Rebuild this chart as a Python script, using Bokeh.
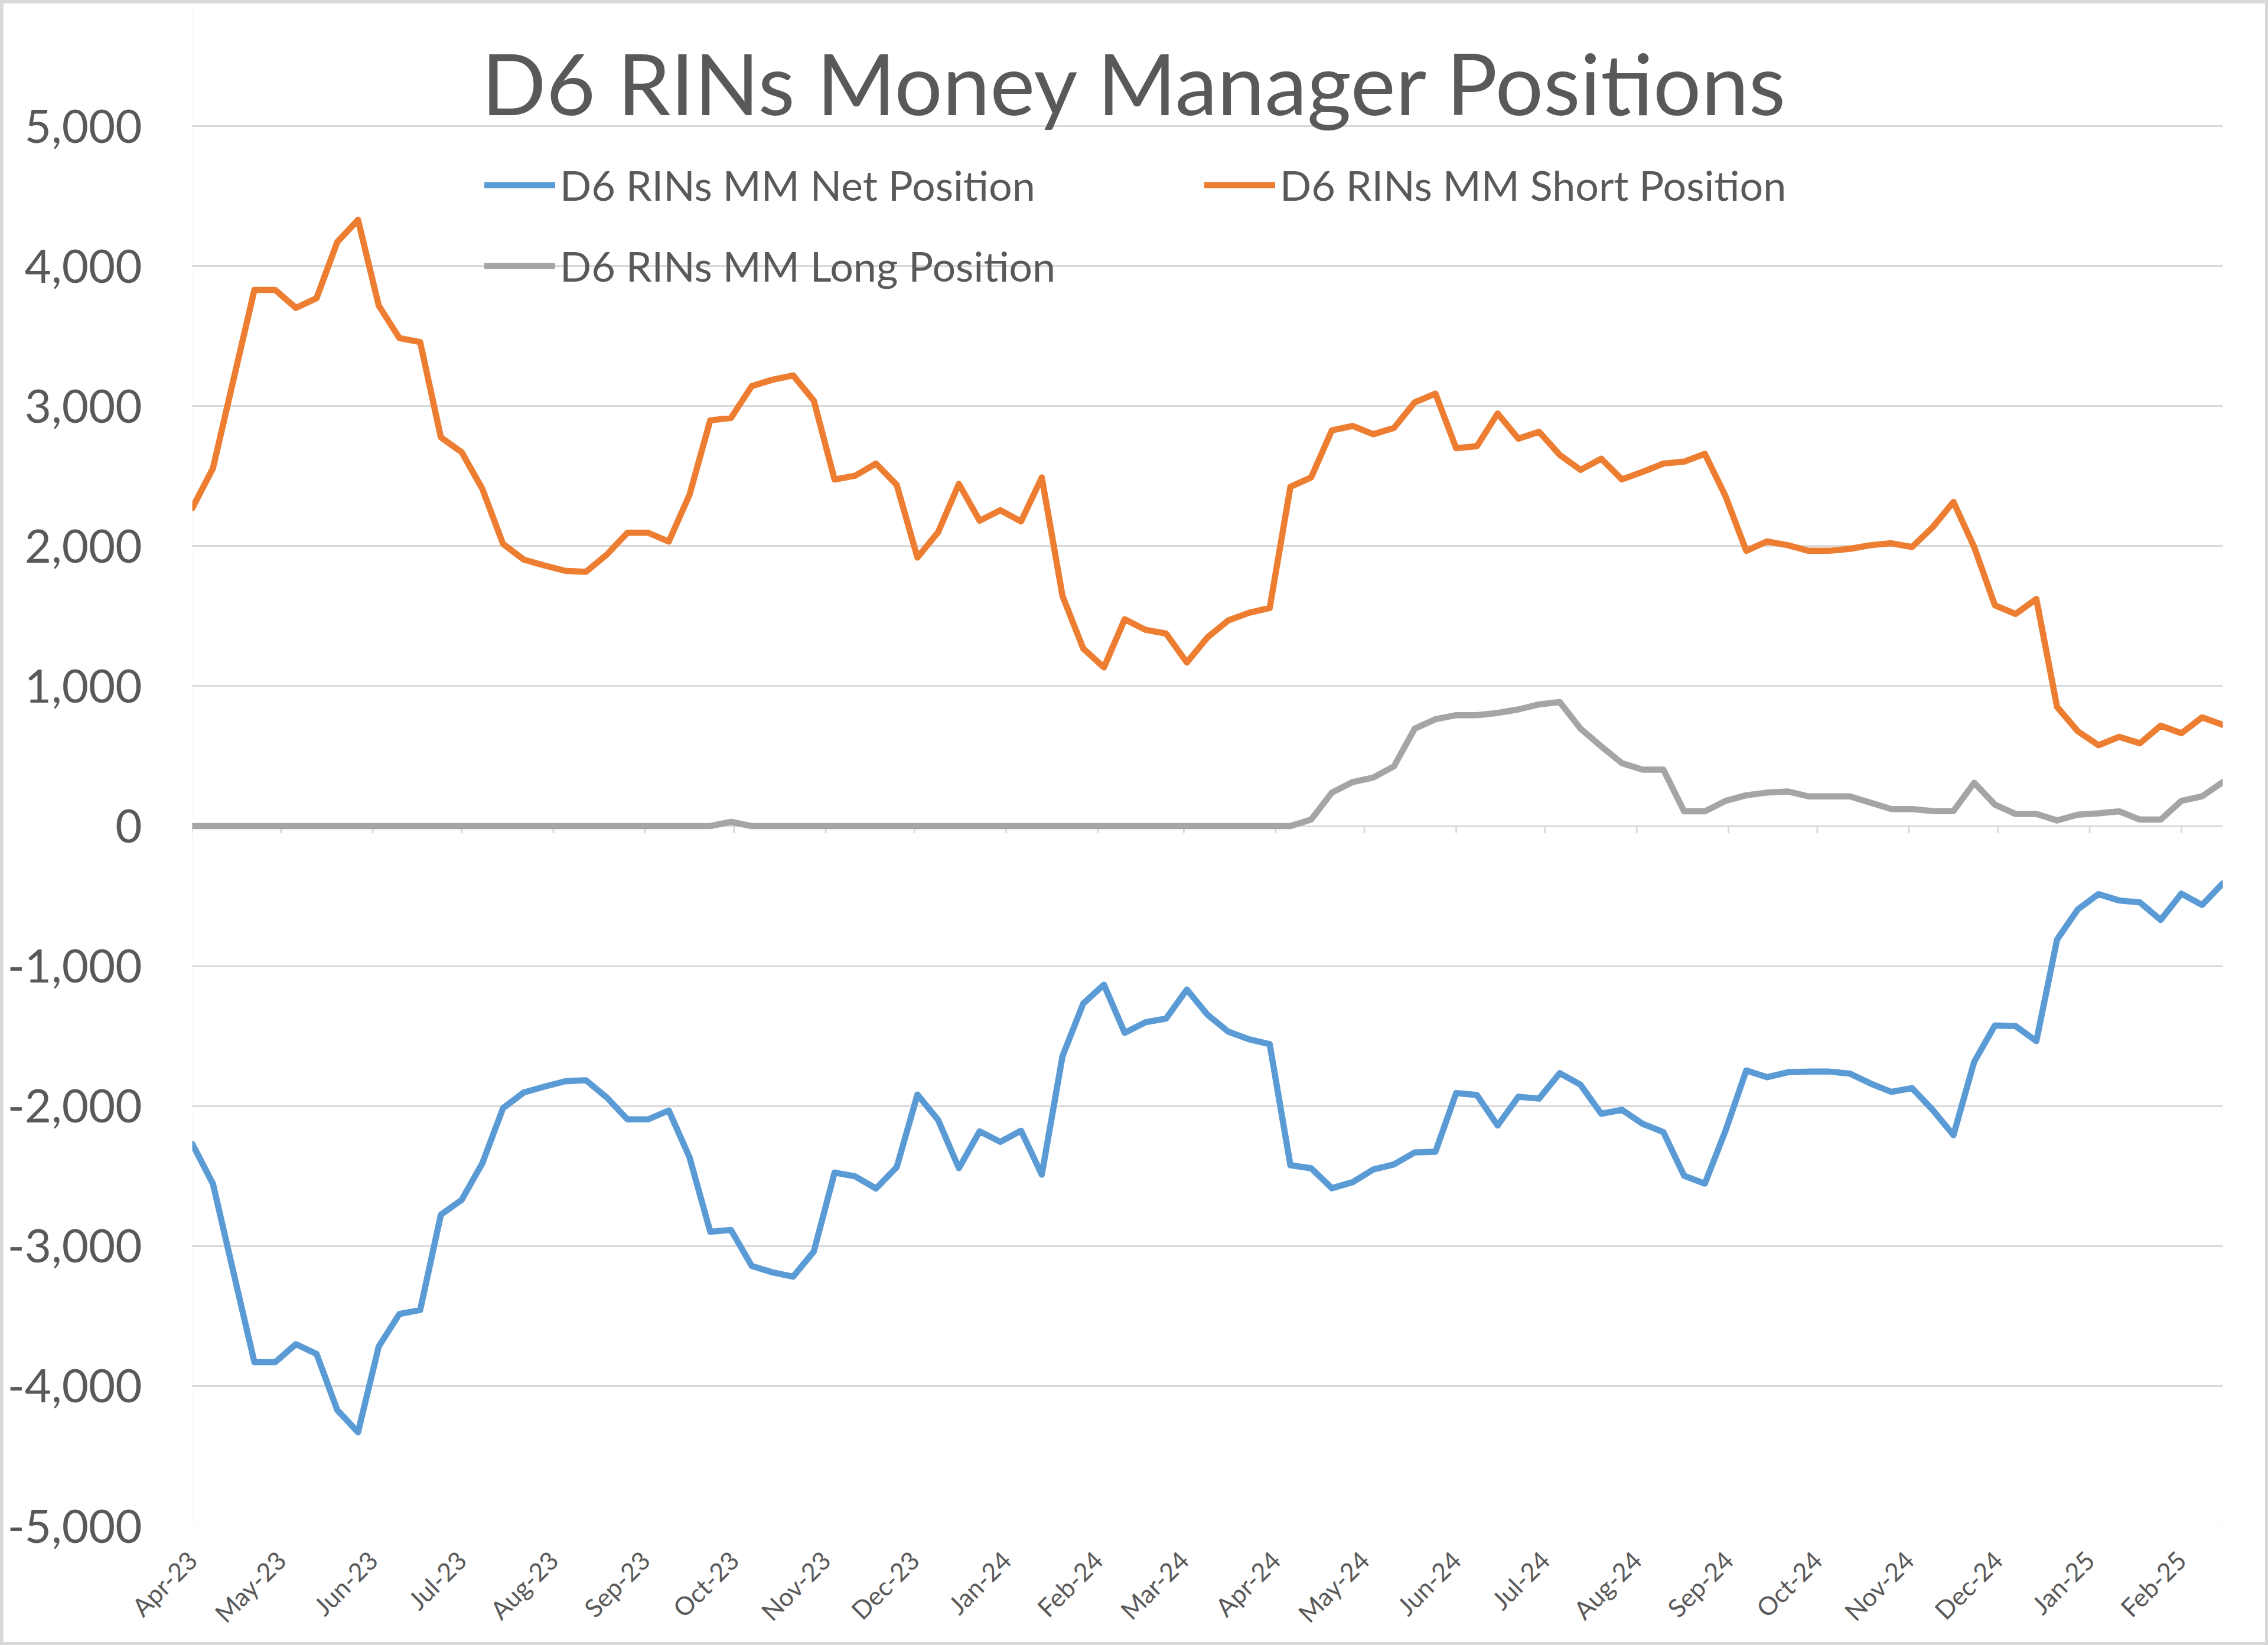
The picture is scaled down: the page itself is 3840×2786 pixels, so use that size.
import math
import pandas as pd
from bokeh.plotting import figure
from bokeh.layouts import column
from bokeh.models import (Range1d, FixedTicker, NumeralTickFormatter, DatetimeTickFormatter,
                          Legend, LegendItem, Label, ColumnDataSource)
from bokeh.embed import file_html
from bokeh.resources import INLINE

# ---------------- data (weekly) ----------------
first_date = "2023-04-04"
n_weeks = 99

short_pos = [2270, 2556, 3195, 3830, 3830, 3701, 3771, 4172, 4330, 3718,
             3485, 3457, 2776, 2671, 2409, 2015, 1903, 1861, 1823, 1816,
             1938, 2095, 2095, 2032, 2367, 2898, 2915, 3142, 3188, 3219,
             3038, 2475, 2503, 2589, 2436, 1918, 2100, 2444, 2181, 2256,
             2176, 2490, 1644, 1268, 1133, 1477, 1402, 1375, 1168, 1348,
             1469, 1523, 1558, 2423, 2490, 2826, 2858, 2799, 2844, 3027,
             3089, 2699, 2713, 2947, 2767, 2816, 2651, 2544, 2624, 2476,
             2530, 2589, 2603, 2659, 2356, 1966, 2033, 2006, 1966, 1966,
             1980, 2006, 2020, 1993, 2135, 2315, 1993, 1577, 1515, 1622,
             851, 677, 577, 637, 591, 717, 663, 776, 723]

long_pos = [0, 0, 0, 0, 0, 0, 0, 0, 0, 0,
            0, 0, 0, 0, 0, 0, 0, 0, 0, 0,
            0, 0, 0, 0, 0, 0, 30, 0, 0, 0,
            0, 0, 0, 0, 0, 0, 0, 0, 0, 0,
            0, 0, 0, 0, 0, 0, 0, 0, 0, 0,
            0, 0, 0, 0, 46, 239, 314, 346, 427, 696,
            763, 792, 792, 808, 833, 869, 886, 696, 569, 449,
            403, 403, 105, 105, 180, 220, 239, 247, 212, 212,
            212, 167, 121, 121, 107, 107, 309, 153, 86, 86,
            40, 81, 91, 105, 46, 46, 180, 212, 314]

net_pos = [-2270, -2556, -3195, -3830, -3830, -3701, -3771, -4172, -4330, -3718,
           -3485, -3457, -2776, -2671, -2409, -2015, -1903, -1861, -1823, -1816,
           -1938, -2095, -2095, -2032, -2367, -2898, -2885, -3142, -3188, -3219,
           -3038, -2475, -2503, -2589, -2436, -1918, -2100, -2444, -2181, -2256,
           -2176, -2490, -1644, -1268, -1133, -1477, -1402, -1375, -1168, -1348,
           -1469, -1523, -1558, -2423, -2444, -2587, -2544, -2453, -2417, -2331,
           -2326, -1907, -1921, -2139, -1934, -1947, -1765, -1848, -2055, -2027,
           -2127, -2186, -2498, -2554, -2176, -1746, -1794, -1759, -1754, -1754,
           -1768, -1839, -1899, -1872, -2028, -2208, -1684, -1424, -1429, -1536,
           -811, -596, -486, -532, -545, -671, -483, -564, -409]

tick_dates = ["2023-04-04", "2023-05-04", "2023-06-04", "2023-07-04", "2023-08-04",
              "2023-09-04", "2023-10-04", "2023-11-04", "2023-12-04", "2024-01-04",
              "2024-02-04", "2024-03-04", "2024-04-04", "2024-05-04", "2024-06-04",
              "2024-07-04", "2024-08-04", "2024-09-04", "2024-10-04", "2024-11-04",
              "2024-12-04", "2025-01-04", "2025-02-04"]
tick_labels = ["Apr-23", "May-23", "Jun-23", "Jul-23", "Aug-23", "Sep-23", "Oct-23",
               "Nov-23", "Dec-23", "Jan-24", "Feb-24", "Mar-24", "Apr-24", "May-24",
               "Jun-24", "Jul-24", "Aug-24", "Sep-24", "Oct-24", "Nov-24", "Dec-24",
               "Jan-25", "Feb-25"]
y_ticks = [-5000, -4000, -3000, -2000, -1000, 0, 1000, 2000, 3000, 4000, 5000]

series_names = ["D6 RINs MM Net Position", "D6 RINs MM Short Position", "D6 RINs MM Long Position"]
title_text = "D6 RINs Money Manager Positions"

# ---------------- styling ----------------
FONT = "Lato"
TXT = "#595959"
GRID = "#d9d9d9"
C_NET, C_SHORT, C_LONG = "#5B9BD5", "#ED7D31", "#A5A5A5"

dates = pd.date_range(first_date, periods=n_weeks, freq="7D")
tick_ts = [pd.Timestamp(d) for d in tick_dates]
tick_ms = [int(t.value // 10**6) for t in tick_ts]

PAGE_W, PAGE_H = 3840, 2786
EDGE = 5                         # light-grey chart-area border
W, H = PAGE_W - 2 * EDGE, PAGE_H - 2 * EDGE
frame_left_pg, frame_right_pg, frame_bottom_pg = 325, 3763, 2584
left_b = frame_left_pg - EDGE
right_b = (PAGE_W - EDGE) - frame_right_pg
bottom_b = (PAGE_H - EDGE) - frame_bottom_pg
frame_h = H - bottom_b           # frame spans from canvas top
px_per_unit = (2584 - 213) / 10000.0
y_top = -5000 + frame_h / px_per_unit

fig = figure(width=W, height=H, x_axis_type="datetime", output_backend="svg",
             toolbar_location=None,
             x_range=Range1d(dates[0], dates[-1]), y_range=Range1d(-5000, y_top),
             min_border_left=left_b, min_border_right=right_b,
             min_border_top=0, min_border_bottom=bottom_b)
fig.margin = (EDGE, EDGE, EDGE, EDGE)
fig.background_fill_color = "white"
fig.border_fill_color = "white"
fig.outline_line_color = None

# y axis
fig.yaxis.ticker = FixedTicker(ticks=y_ticks)
fig.yaxis.formatter = NumeralTickFormatter(format="0,0")
fig.yaxis.axis_line_color = None
fig.yaxis.major_tick_line_color = None
fig.yaxis.minor_tick_line_color = None
fig.yaxis.major_tick_out = 0
fig.yaxis.major_tick_in = 0
fig.yaxis.major_label_standoff = 85
fig.yaxis.major_label_text_font = FONT
fig.yaxis.major_label_text_font_size = "78px"
fig.yaxis.major_label_text_color = TXT

# x axis
fig.xaxis.ticker = FixedTicker(ticks=tick_ms)
fig.xaxis.formatter = DatetimeTickFormatter(days="%b-%y", months="%b-%y", years="%b-%y")
fig.xaxis.major_label_overrides = {ms: lab for ms, lab in zip(tick_ms, tick_labels)}
fig.xaxis.major_label_orientation = math.pi / 4
fig.xaxis.axis_line_color = None
fig.xaxis.major_tick_line_color = None
fig.xaxis.minor_tick_line_color = None
fig.xaxis.major_tick_out = 0
fig.xaxis.major_tick_in = 0
fig.xaxis.major_label_standoff = 50
fig.xaxis.major_label_text_font = FONT
fig.xaxis.major_label_text_font_size = "43px"
fig.xaxis.major_label_text_color = TXT

fig.xgrid.visible = False
fig.ygrid.grid_line_color = GRID
fig.ygrid.grid_line_width = 3

# tick marks on the zero line
fig.segment(x0=tick_ts, y0=[0] * len(tick_ts), x1=tick_ts, y1=[-50] * len(tick_ts),
            line_color=GRID, line_width=3)

src = ColumnDataSource(dict(date=dates, net=net_pos, short=short_pos, long=long_pos))
lw = 10.5
r_net = fig.line("date", "net", source=src, line_color=C_NET, line_width=lw,
                 line_cap="round", line_join="round")
r_short = fig.line("date", "short", source=src, line_color=C_SHORT, line_width=lw,
                   line_cap="round", line_join="round")
r_long = fig.line("date", "long", source=src, line_color=C_LONG, line_width=lw,
                  line_cap="round", line_join="round")

ROW_H, ROW_GAP, LEG_TOP = 84, 53, 271

def make_legend(items, loc):
    return Legend(items=items, location=loc, orientation="vertical",
                  background_fill_alpha=0, border_line_color=None,
                  padding=0, margin=0, glyph_width=120, glyph_height=ROW_H,
                  label_height=ROW_H, label_standoff=8, spacing=ROW_GAP,
                  label_text_font=FONT, label_text_font_size="70px",
                  label_text_color=TXT)

leg1_bottom = LEG_TOP + 2 * ROW_H + ROW_GAP
leg2_bottom = LEG_TOP + ROW_H
leg1 = make_legend([LegendItem(label=series_names[0], renderers=[r_net]),
                    LegendItem(label=series_names[2], renderers=[r_long])],
                   (820 - frame_left_pg, frame_bottom_pg - leg1_bottom))
leg2 = make_legend([LegendItem(label=series_names[1], renderers=[r_short])],
                   (2039 - frame_left_pg, frame_bottom_pg - leg2_bottom))
fig.add_layout(leg1, "center")
fig.add_layout(leg2, "center")

title = Label(x=1922 - frame_left_pg, y=frame_bottom_pg - 139, x_units="screen", y_units="screen",
              text=title_text, text_align="center", text_baseline="alphabetic",
              text_font=FONT, text_font_size="144px", text_color=TXT)
fig.add_layout(title)

p = column(fig, styles={"background-color": "#d9d9d9"})

open("out.html", "w").write(file_html(p, INLINE))
